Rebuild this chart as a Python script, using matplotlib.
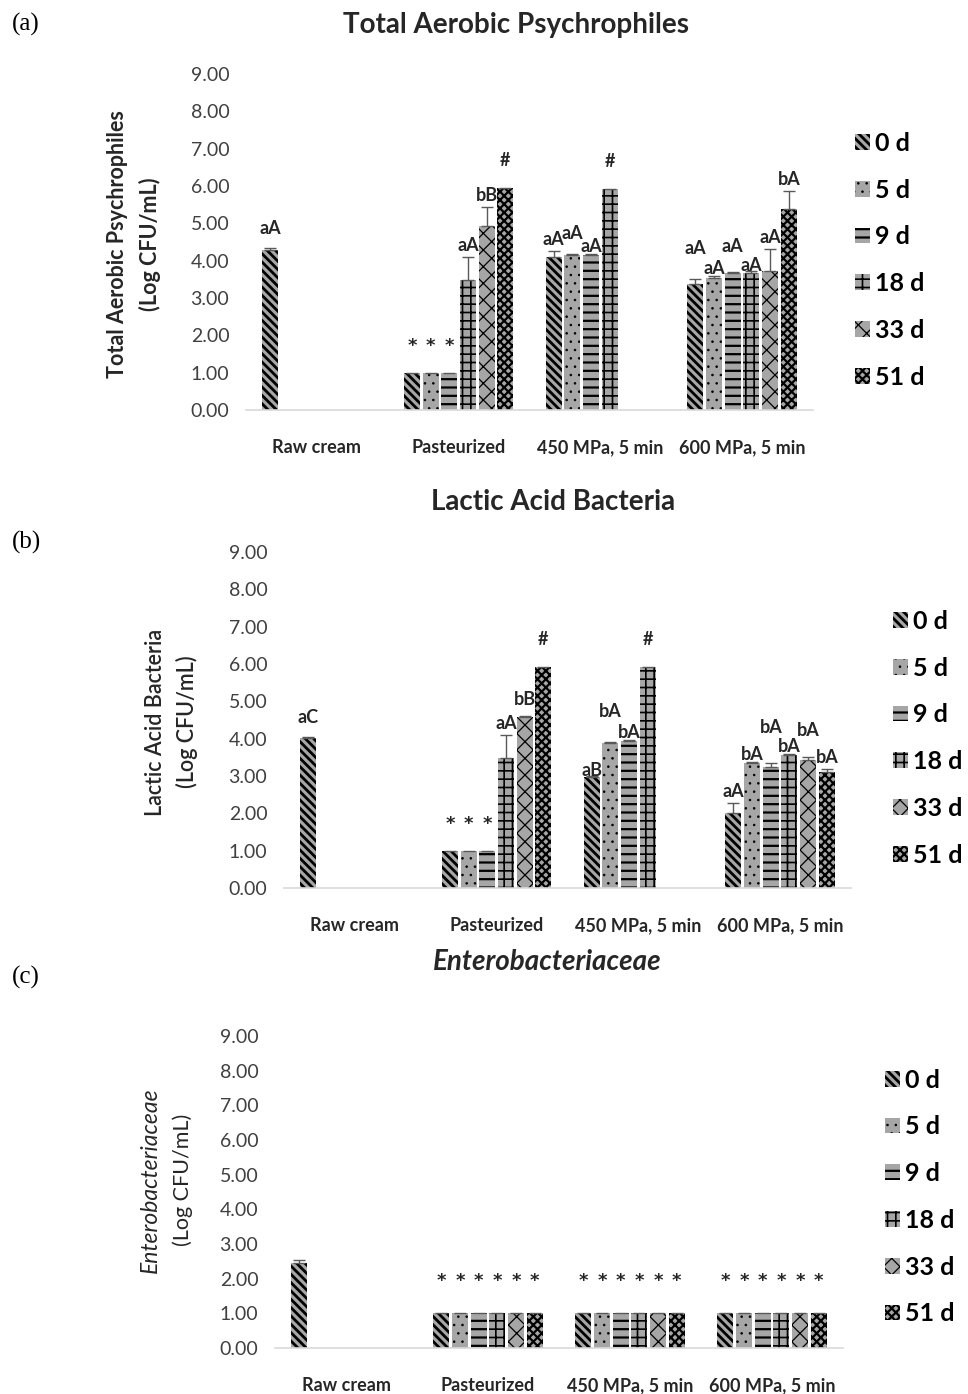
import numpy as np
import matplotlib
matplotlib.use('Agg')
import matplotlib.pyplot as plt

nan = np.nan

categories = ['Raw cream', 'Pasteurized', '450 MPa, 5 min', '600 MPa, 5 min']
days = ['0 d', '5 d', '9 d', '18 d', '33 d', '51 d']

# (a) total aerobic psychrophiles, rows = treatment, cols = storage day
tap_mean = [[4.29, nan, nan, nan, nan, nan],
            [1.00, 1.00, 1.00, 3.47, 4.92, 5.95],
            [4.11, 4.15, 4.15, 5.93, nan, nan],
            [3.38, 3.54, 3.68, 3.68, 3.72, 5.38]]
tap_err = [[0.06, nan, nan, nan, nan, nan],
           [nan, nan, nan, 0.63, 0.53, nan],
           [0.15, 0.03, 0.03, nan, nan, nan],
           [0.14, 0.06, 0.02, 0.03, 0.60, 0.49]]
tap_text = [['aA', '', '', '', '', ''],
            ['*', '*', '*', 'aA', 'bB', '#'],
            ['aA', 'aA', 'aA', '#', '', ''],
            ['aA', 'aA', 'aA', 'aA', 'aA', 'bA']]

# (b) lactic acid bacteria
lab_mean = [[4.02, nan, nan, nan, nan, nan],
            [1.00, 1.00, 1.00, 3.47, 4.59, 5.93],
            [2.98, 3.89, 3.95, 5.93, nan, nan],
            [2.02, 3.34, 3.25, 3.56, 3.43, 3.12]]
lab_err = [[0.03, nan, nan, nan, nan, nan],
           [nan, nan, nan, 0.63, 0.02, nan],
           [0.03, 0.03, 0.02, nan, nan, nan],
           [0.27, 0.03, 0.11, 0.04, 0.09, 0.08]]
lab_text = [['aC', '', '', '', '', ''],
            ['*', '*', '*', 'aA', 'bB', '#'],
            ['aB', 'bA', 'bA', '#', '', ''],
            ['aA', 'bA', 'bA', 'bA', 'bA', 'bA']]

# (c) enterobacteriaceae
ent_mean = [[2.45, nan, nan, nan, nan, nan],
            [1.00, 1.00, 1.00, 1.00, 1.00, 1.00],
            [1.00, 1.00, 1.00, 1.00, 1.00, 1.00],
            [1.00, 1.00, 1.00, 1.00, 1.00, 1.00]]
ent_err = [[0.10, nan, nan, nan, nan, nan],
           [nan] * 6, [nan] * 6, [nan] * 6]
ent_text = [[''] * 6, ['*'] * 6, ['*'] * 6, ['*'] * 6]

# label staggering (layout only)
tap_lift = [[0.2, 0, 0, 0, 0, 0], [0] * 6,
            [0, 0.25, -0.1, 0, 0, 0], [0.5, -0.1, 0.37, -0.14, 0, 0]]
lab_lift = [[0.23, 0, 0, 0, 0, 0], [0, 0, 0, 0, 0.15, 0],
            [-0.16, 0.5, -0.1, 0, 0, 0], [0, -0.1, 0.63, -0.1, 0.4, 0]]
ent_lift = [[0] * 6, [0.2] * 6, [0.2] * 6, [0.2] * 6]

hatches = ['\\\\\\\\', '..', '--', '++', 'xx', 'xxxx']
hatch_lw = [2.0, 0.6, 1.6, 1.2, 0.9, 1.6]
FONT = 'Lato'
plt.rcParams['font.family'] = [FONT, 'DejaVu Sans']
plt.rcParams['hatch.linewidth'] = 1.5


def draw(ax, means, errs, texts, lifts, legend_y):
    x = np.arange(len(categories))
    step = 0.1317
    w = 0.113
    for j in range(6):
        xs = x + (j - 2.5) * step
        m = np.array([r[j] for r in means])
        e = np.array([r[j] for r in errs])
        bars = ax.bar(xs, m, w, color='#a6a6a6', edgecolor='black', linewidth=0,
                      hatch=hatches[j], label=days[j])
        for b in bars:
            try:
                b.set_hatch_linewidth(hatch_lw[j])
            except AttributeError:
                pass
        ax.errorbar(xs, m, yerr=[np.zeros_like(e), e], fmt='none', ecolor='#595959',
                    elinewidth=1, capsize=4, capthick=1)
        for i in range(len(categories)):
            t = texts[i][j]
            if not t:
                continue
            top = m[i] + (0 if np.isnan(e[i]) else e[i])
            if t == '*':
                ax.text(xs[i], top + 0.72 + lifts[i][j], t, ha='center', va='center',
                        fontsize=13, fontweight='bold', family='DejaVu Sans',
                        color='#262626')
                continue
            pad = {'#': 0.72}.get(t, 0.3)
            ax.text(xs[i], top + pad + lifts[i][j], t, ha='center', va='center',
                    fontsize=13, fontweight='bold', color='#262626')
    ax.set_xlim(-0.5, 3.5)
    ax.set_ylim(0, 9)
    ax.set_yticks(np.arange(0, 10))
    ax.set_yticklabels(['%.2f' % v for v in range(10)], fontsize=14, color='#404040')
    ax.set_xticks(x)
    ax.set_xticklabels(categories, fontsize=13, fontweight='bold', color='#262626')
    ax.tick_params(axis='y', length=0, pad=12)
    ax.tick_params(axis='x', length=0, pad=21)
    for s in ['top', 'right', 'left']:
        ax.spines[s].set_visible(False)
    ax.spines['bottom'].set_color('#d9d9d9')
    ax.spines['bottom'].set_linewidth(1.2)
    leg = ax.legend(loc='center left', bbox_to_anchor=(1.074, legend_y), frameon=False,
                    prop={'family': FONT, 'weight': 'bold', 'size': 18},
                    labelspacing=0.95, handlelength=0.6, handleheight=0.6,
                    handletextpad=0.2, borderpad=0, borderaxespad=0)
    for k, h in enumerate(leg.legend_handles):
        try:
            h.set_hatch_linewidth(hatch_lw[k])
        except AttributeError:
            pass


fig = plt.figure(figsize=(9.68, 13.94), dpi=100)
H = 1394.0
W = 968.0

ax1 = fig.add_axes([246 / W, 1 - 410 / H, 567 / W, 336 / H])
draw(ax1, tap_mean, tap_err, tap_text, tap_lift, 0.446)
ax2 = fig.add_axes([284 / W, 1 - 888 / H, 567 / W, 336 / H])
draw(ax2, lab_mean, lab_err, lab_text, lab_lift, 0.446)
ax3 = fig.add_axes([275 / W, 1 - 1348 / H, 568 / W, 312 / H])
draw(ax3, ent_mean, ent_err, ent_text, ent_lift, 0.484)

# titles
fig.text(516 / W, 1 - 25 / H, 'Total Aerobic Psychrophiles', ha='center', va='center',
         fontsize=20, fontweight='bold', color='#262626')
fig.text(553 / W, 1 - 502 / H, 'Lactic Acid Bacteria', ha='center', va='center',
         fontsize=20, fontweight='bold', color='#262626')
fig.text(547 / W, 1 - 962 / H, 'Enterobacteriaceae', ha='center', va='center',
         fontsize=20, fontweight='bold', style='italic', color='#262626')

# y axis titles
fig.text(118 / W, 1 - 244 / H, 'Total Aerobic Psychrophiles', rotation=90, ha='center',
         va='center', fontsize=15.5, fontweight='bold', color='#262626')
fig.text(150 / W, 1 - 244 / H, '(Log CFU/mL)', rotation=90, ha='center',
         va='center', fontsize=15.5, fontweight='bold', color='#262626')
fig.text(155 / W, 1 - 722 / H, 'Lactic Acid Bacteria', rotation=90, ha='center',
         va='center', fontsize=15.5, fontweight='semibold', color='#262626')
fig.text(187 / W, 1 - 722 / H, '(Log CFU/mL)', rotation=90, ha='center',
         va='center', fontsize=15.5, fontweight='semibold', color='#262626')
fig.text(150 / W, 1 - 1180 / H, 'Enterobacteriaceae', rotation=90, ha='center',
         va='center', fontsize=16.5, style='italic', color='#262626')
fig.text(183 / W, 1 - 1180 / H, '(Log CFU/mL)', rotation=90, ha='center',
         va='center', fontsize=15.5, color='#262626')

# panel letters
for lbl, y in [('(a)', 24), ('(b)', 542), ('(c)', 977)]:
    fig.text(12 / W, 1 - y / H, lbl, ha='left', va='center', fontsize=18,
             family='Liberation Serif', color='black')

fig.savefig('out.png', dpi=100)
